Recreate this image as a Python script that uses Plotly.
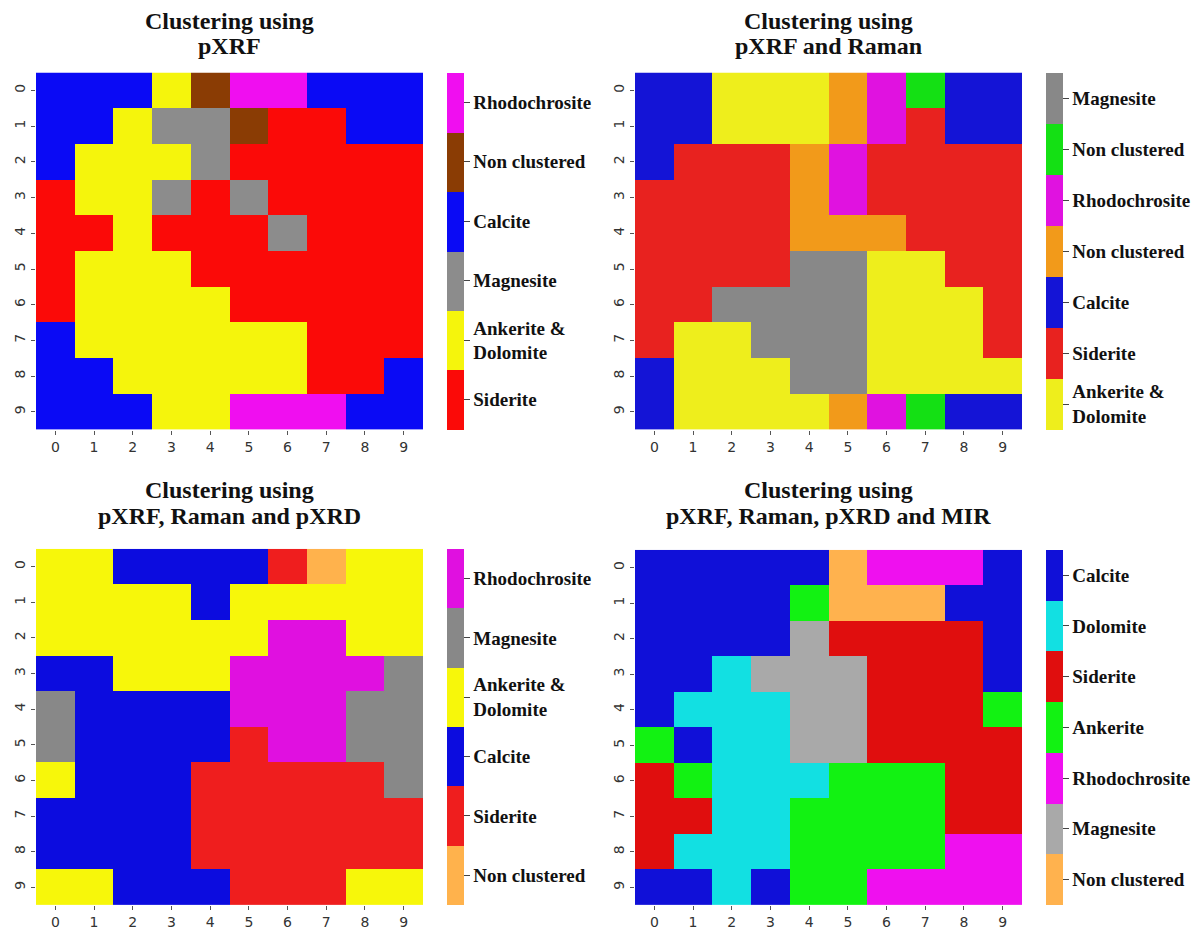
import plotly.graph_objects as go

# The page body has an 8px margin, so the figure is drawn 8px in from the top-left corner.
PAGE_W, PAGE_H = 1203, 938
OFF = 8
W, H = PAGE_W - 2 * OFF, PAGE_H - 2 * OFF

# ---------------- data ----------------
ticks_xy = [0, 1, 2, 3, 4, 5, 6, 7, 8, 9]

# Panel 1: pXRF
labels_1 = ["Siderite", "Ankerite &<br>Dolomite", "Magnesite", "Calcite", "Non clustered", "Rhodochrosite"]
colors_1 = ["#fb0a08", "#f5f50c", "#8c8c8c", "#0a0af5", "#8a3c04", "#f00ef0"]
grid_1 = [
    [3, 3, 3, 1, 4, 5, 5, 3, 3, 3],
    [3, 3, 1, 2, 2, 4, 0, 0, 3, 3],
    [3, 1, 1, 1, 2, 0, 0, 0, 0, 0],
    [0, 1, 1, 2, 0, 2, 0, 0, 0, 0],
    [0, 0, 1, 0, 0, 0, 2, 0, 0, 0],
    [0, 1, 1, 1, 0, 0, 0, 0, 0, 0],
    [0, 1, 1, 1, 1, 0, 0, 0, 0, 0],
    [3, 1, 1, 1, 1, 1, 1, 0, 0, 0],
    [3, 3, 1, 1, 1, 1, 1, 0, 0, 3],
    [3, 3, 3, 1, 1, 5, 5, 5, 3, 3],
]

# Panel 2: pXRF and Raman
labels_2 = ["Ankerite &<br>Dolomite", "Siderite", "Calcite", "Non clustered", "Rhodochrosite", "Non clustered ", "Magnesite"]
colors_2 = ["#eeee1c", "#e8221f", "#1414d6", "#f29a1a", "#e012e0", "#14e014", "#888888"]
grid_2 = [
    [2, 2, 0, 0, 0, 3, 4, 5, 2, 2],
    [2, 2, 0, 0, 0, 3, 4, 1, 2, 2],
    [2, 1, 1, 1, 3, 4, 1, 1, 1, 1],
    [1, 1, 1, 1, 3, 4, 1, 1, 1, 1],
    [1, 1, 1, 1, 3, 3, 3, 1, 1, 1],
    [1, 1, 1, 1, 6, 6, 0, 0, 1, 1],
    [1, 1, 6, 6, 6, 6, 0, 0, 0, 1],
    [1, 0, 0, 6, 6, 6, 0, 0, 0, 1],
    [2, 0, 0, 0, 6, 6, 0, 0, 0, 0],
    [2, 0, 0, 0, 0, 3, 4, 5, 2, 2],
]

# Panel 3: pXRF, Raman and pXRD
labels_3 = ["Non clustered", "Siderite", "Calcite", "Ankerite &<br>Dolomite", "Magnesite", "Rhodochrosite"]
colors_3 = ["#ffb24c", "#ef1e1e", "#0c0cdf", "#f7f70a", "#888888", "#e010e0"]
grid_3 = [
    [3, 3, 2, 2, 2, 2, 1, 0, 3, 3],
    [3, 3, 3, 3, 2, 3, 3, 3, 3, 3],
    [3, 3, 3, 3, 3, 3, 5, 5, 3, 3],
    [2, 2, 3, 3, 3, 5, 5, 5, 5, 4],
    [4, 2, 2, 2, 2, 5, 5, 5, 4, 4],
    [4, 2, 2, 2, 2, 1, 5, 5, 4, 4],
    [3, 2, 2, 2, 1, 1, 1, 1, 1, 4],
    [2, 2, 2, 2, 1, 1, 1, 1, 1, 1],
    [2, 2, 2, 2, 1, 1, 1, 1, 1, 1],
    [3, 3, 2, 2, 2, 1, 1, 1, 3, 3],
]

# Panel 4: pXRF, Raman, pXRD and MIR
labels_4 = ["Non clustered", "Magnesite", "Rhodochrosite", "Ankerite", "Siderite", "Dolomite", "Calcite"]
colors_4 = ["#ffb24e", "#a9a9a9", "#ef10ef", "#12f212", "#e00e0e", "#12e0e2", "#1010d8"]
grid_4 = [
    [6, 6, 6, 6, 6, 0, 2, 2, 2, 6],
    [6, 6, 6, 6, 3, 0, 0, 0, 6, 6],
    [6, 6, 6, 6, 1, 4, 4, 4, 4, 6],
    [6, 6, 5, 1, 1, 1, 4, 4, 4, 6],
    [6, 5, 5, 5, 1, 1, 4, 4, 4, 3],
    [3, 6, 5, 5, 1, 1, 4, 4, 4, 4],
    [4, 3, 5, 5, 5, 3, 3, 3, 4, 4],
    [4, 4, 5, 5, 3, 3, 3, 3, 4, 4],
    [4, 5, 5, 5, 3, 3, 3, 3, 2, 2],
    [6, 6, 5, 6, 3, 3, 2, 2, 2, 2],
]

title_line1 = ["Clustering using"] * 4
title_line2 = ["pXRF", "pXRF and Raman", "pXRF, Raman and pXRD", "pXRF, Raman, pXRD and MIR"]

panels = [
    (grid_1, labels_1, colors_1),
    (grid_2, labels_2, colors_2),
    (grid_3, labels_3, colors_3),
    (grid_4, labels_4, colors_4),
]

# ---------------- layout geometry (page pixels) ----------------
heat_x = [(36, 423), (635, 1022), (36, 423), (635, 1022)]
heat_y = [(73, 433), (73, 433), (553, 912), (554, 912)]
cbar_x = [447, 1046, 447, 1046]
title_base = [(30, 55), (30, 55), (502, 528), (502, 528)]


def px_x(p):
    return (p - OFF) / W


def px_y(p):
    return 1 - (p - OFF) / H


def discrete_scale(cols):
    n = len(cols)
    scale = []
    for i, c in enumerate(cols):
        scale.append([i / n, c])
        scale.append([(i + 1) / n, c])
    return scale


fig = go.Figure()
serif = "Liberation Serif, Times New Roman, serif"
TITLE_SIZE = 24

for k, (grid, labels, cols) in enumerate(panels):
    n = len(labels)
    ax = "" if k == 0 else str(k + 1)
    x0, x1 = heat_x[k]
    y0, y1 = heat_y[k]
    fig.add_trace(go.Heatmap(
        z=grid,
        x=ticks_xy,
        y=ticks_xy,
        zmin=-0.5,
        zmax=n - 0.5,
        colorscale=discrete_scale(cols),
        xaxis="x" + ax,
        yaxis="y" + ax,
        hoverinfo="skip",
        colorbar=dict(
            x=px_x(cbar_x[k]), xanchor="left", xpad=0,
            y=px_y(y0), yanchor="top", ypad=0,
            len=(y1 - y0) / H, lenmode="fraction",
            thickness=17, thicknessmode="pixels",
            outlinewidth=0,
            tickmode="array",
            tickvals=list(range(n)),
            ticktext=labels,
            ticks="outside", ticklen=6, tickwidth=1, tickcolor="#444444",
            tickfont=dict(family=serif, size=19, color="#111111", weight="bold"),
        ),
    ))
    axis_common = dict(
        showgrid=False, zeroline=False, showline=False,
        ticks="outside", ticklen=4, tickwidth=1, tickcolor="#555555",
        tickmode="array", tickvals=ticks_xy,
        tickfont=dict(family="DejaVu Sans, sans-serif", size=14, color="#333333"),
        fixedrange=True,
    )
    fig.layout["xaxis" + ax] = dict(
        axis_common, domain=[px_x(x0), px_x(x1)], range=[-0.5, 9.5],
        anchor="y" + ax,
    )
    fig.layout["yaxis" + ax] = dict(
        axis_common, domain=[px_y(y1), px_y(y0)], range=[9.5, -0.5],
        anchor="x" + ax, tickangle=-90,
    )
    for line_text, base in ((title_line1[k], title_base[k][0]), (title_line2[k], title_base[k][1])):
        fig.add_annotation(
            x=px_x((x0 + x1) / 2), y=px_y(base - 0.35 * TITLE_SIZE),
            xref="paper", yref="paper", xanchor="center", yanchor="middle",
            text="<b>" + line_text + "</b>", showarrow=False,
            font=dict(family=serif, size=TITLE_SIZE, color="#111111"),
        )

fig.update_layout(
    width=W, height=H,
    margin=dict(l=0, r=0, t=0, b=0),
    paper_bgcolor="white", plot_bgcolor="white",
    showlegend=False,
)

fig.write_html("out.html")
